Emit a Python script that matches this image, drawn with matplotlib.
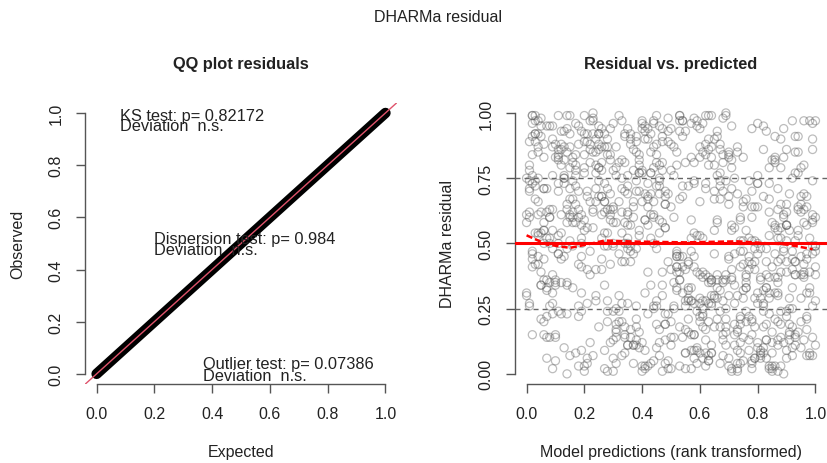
import matplotlib
matplotlib.use("Agg")
import matplotlib.pyplot as plt

plt.rcParams['font.family'] = ['Liberation Sans', 'DejaVu Sans']

# QQ plot: expected vs observed quantiles of the scaled residuals
qq_expected = [0.0, 0.1, 0.2, 0.3, 0.4, 0.5, 0.6, 0.7, 0.8, 0.9, 1.0]
qq_observed = [0.0, 0.1, 0.2, 0.3, 0.4, 0.5, 0.6, 0.7, 0.8, 0.9, 1.0]

test_names = ['KS test', 'Dispersion test', 'Outlier test']
test_pvalues = ['0.82172', '0.984', '0.07386']
test_results = ['n.s.', 'n.s.', 'n.s.']

# rank transformed predictions and residuals, in percent
pred_pct = [
    3, 57, 81, 24, 66, 12, 92, 45, 38, 71, 5, 88, 29, 53, 16, 97, 62, 41, 77, 9,
    34, 85, 19, 60, 48, 2, 73, 26, 94, 55, 13, 68, 39, 82, 7, 50, 23, 99, 64, 31,
    76, 10, 43, 90, 28, 58, 15, 83, 36, 70, 1, 47, 93, 21, 65, 86, 32, 54, 8, 79,
    18, 61, 40, 95, 4, 74, 27, 51, 87, 14, 67, 35, 80, 22, 59, 96, 44, 11, 72, 49,
    91, 6, 56, 30, 78, 17, 63, 42, 100, 25, 84, 37, 69, 0, 52, 20, 89, 46, 75, 33,
    11, 58, 97, 26, 44, 80, 3, 66, 35, 91, 19, 73, 50, 8, 62, 84, 29, 41, 95, 14,
    70, 23, 47, 87, 1, 55, 32, 78, 16, 64, 98, 38, 9, 82, 27, 53, 71, 6, 45, 90,
    36, 76, 13, 59, 93, 21, 68, 4, 49, 85, 30, 61, 18, 96, 42, 74, 2, 57, 33, 81,
    63, 5, 88, 39, 15, 72, 46, 99, 24, 56, 7, 79, 43, 92, 12, 67, 37, 86, 20, 52,
    28, 94, 60, 10, 77, 34, 83, 48, 0, 69, 40, 17, 89, 54, 25, 100, 65, 31, 75, 7,
    46, 18, 81, 67, 3, 92, 52, 29, 74, 12, 58, 87, 36, 63, 21, 95, 9, 44, 79, 38,
    85, 31, 6, 54, 90, 40, 15, 71, 27, 98, 48, 2, 66, 83, 34, 57, 13, 76, 50, 23,
    8, 73, 42, 97, 19, 61, 86, 33, 55, 4, 80, 26, 93, 45, 69, 11, 88, 37, 62, 1,
    52, 99, 28, 14, 64, 37, 78, 5, 43, 91, 22, 70, 49, 16, 84, 59, 30, 96, 9, 67,
    39, 7, 75, 60, 82, 24, 47, 94, 10, 35, 68, 56, 1, 77, 41, 20, 89, 63, 28, 100,
    95, 44, 17, 32, 71, 88, 3, 51, 65, 26, 13, 85, 39, 58, 93, 6, 74, 22, 47, 80,
    25, 62, 83, 9, 48, 15, 69, 36, 98, 56, 79, 30, 4, 72, 18, 53, 41, 87, 11, 65,
    78, 2, 54, 91, 34, 66, 22, 87, 45, 17, 61, 94, 27, 8, 50, 81, 35, 68, 99, 14,
    12, 89, 38, 73, 57, 5, 96, 20, 76, 42, 31, 64, 86, 53, 0, 70, 23, 46, 84, 59,
    67, 33, 100, 19, 86, 43, 11, 58, 29, 81, 6, 49, 72, 35, 97, 14, 62, 90, 40, 26,
    4, 55, 79, 46, 21, 93, 37, 64, 8, 74, 52, 18, 99, 27, 69, 42, 85, 10, 57, 32,
    88, 15, 41, 63, 97, 30, 75, 2, 50, 24, 90, 66, 13, 84, 36, 60, 5, 78, 19, 47,
    31, 71, 7, 85, 53, 14, 61, 92, 39, 68, 26, 0, 82, 45, 17, 95, 54, 28, 73, 91,
    59, 24, 90, 38, 11, 77, 48, 20, 83, 3, 65, 43, 28, 100, 58, 34, 80, 15, 96, 6,
    17, 82, 52, 2, 68, 96, 25, 44, 71, 33, 87, 9, 56, 39, 76, 22, 63, 49, 1, 74,
    93, 40, 65, 77, 28, 8, 54, 86, 14, 60, 36, 98, 21, 70, 4, 89, 47, 32, 67, 51,
    45, 97, 20, 56, 83, 61, 1, 30, 92, 48, 75, 12, 41, 66, 88, 27, 10, 79, 35, 58,
    72, 9, 34, 99, 42, 19, 80, 67, 5, 86, 23, 53, 94, 31, 60, 74, 16, 43, 91, 2,
    23, 64, 87, 13, 50, 73, 35, 15, 57, 100, 44, 78, 7, 29, 83, 48, 96, 61, 18, 38,
    60, 29, 3, 70, 95, 51, 90, 40, 25, 78, 0, 34, 63, 11, 46, 84, 55, 5, 30, 76,
    14, 49, 86, 31, 68, 2, 57, 93, 22, 75, 40, 9, 61, 84, 27, 52, 97, 36, 18, 71,
    54, 80, 7, 43, 96, 25, 64, 11, 89, 33, 76, 50, 1, 66, 38, 92, 19, 58, 83, 45,
    29, 63, 98, 17, 51, 82, 35, 70, 4, 47, 88, 24, 73, 13, 56, 6, 79, 42, 94, 60,
    87, 21, 44, 67, 10, 39, 91, 53, 78, 15, 62, 99, 32, 48, 85, 26, 69, 3, 57, 34,
    41, 74, 16, 90, 59, 28, 6, 81, 46, 65, 20, 37, 95, 72, 11, 64, 44, 88, 23, 100,
    8, 36, 62, 52, 23, 97, 70, 18, 34, 91, 55, 80, 14, 40, 77, 31, 5, 67, 49, 84,
    66, 93, 27, 1, 84, 45, 12, 60, 99, 38, 71, 4, 53, 87, 24, 96, 58, 15, 82, 30,
    19, 55, 79, 35, 71, 63, 42, 89, 7, 26, 48, 68, 83, 21, 50, 10, 37, 75, 92, 3,
    99, 12, 51, 76, 38, 14, 85, 30, 61, 82, 1, 92, 43, 59, 17, 74, 26, 54, 9, 69,
    47, 72, 33, 8, 94, 56, 22, 77, 40, 3, 66, 27, 89, 6, 63, 44, 86, 20, 35, 78,
    24, 87, 60, 47, 15, 79, 53, 2, 68, 95, 32, 58, 11, 76, 99, 39, 62, 29, 84, 6,
    73, 4, 39, 65, 88, 33, 96, 46, 14, 57, 81, 19, 64, 35, 2, 87, 51, 71, 25, 42,
    35, 61, 92, 20, 55, 7, 28, 74, 86, 49, 13, 97, 38, 80, 68, 22, 9, 47, 63, 90,
    82, 27, 13, 58, 3, 69, 44, 97, 31, 75, 52, 84, 25, 1, 46, 78, 93, 34, 16, 59,
    6, 46, 71, 98, 37, 88, 16, 64, 52, 24, 70, 41, 90, 57, 33, 12, 80, 65, 99, 28,
    57, 90, 25, 42, 80, 11, 67, 35, 78, 8, 93, 62, 20, 45, 85, 54, 30, 2, 73, 16,
    90, 33, 4, 83, 62, 50, 19, 87, 26, 69, 41, 7, 75, 98, 29, 61, 17, 92, 44, 53,
    37, 78, 56, 12, 27, 93, 75, 9, 45, 100, 18, 64, 36, 72, 53, 88, 41, 6, 60, 21,
    16, 52, 82, 69, 48, 4, 38, 58, 94, 21, 77, 30, 99, 10, 66, 43, 73, 86, 2, 81,
    64, 9, 46, 23, 74, 39, 100, 28, 11, 62, 34, 90, 48, 25, 87, 5, 55, 31, 95, 70,
]
resid_pct = [
    72, 15, 48, 90, 33, 61, 7, 84, 26, 55, 98, 39, 12, 67, 81, 44, 3, 59, 22, 76,
    50, 8, 93, 29, 65, 41, 17, 78, 53, 2, 87, 36, 70, 24, 95, 11, 62, 46, 83, 19,
    35, 88, 4, 57, 20, 74, 99, 13, 43, 68, 27, 91, 51, 6, 80, 31, 66, 97, 14, 40,
    63, 28, 77, 10, 85, 47, 34, 60, 1, 94, 18, 52, 73, 38, 9, 69, 25, 82, 56, 89,
    16, 71, 42, 96, 5, 58, 86, 23, 49, 79, 37, 64, 100, 30, 45, 92, 0, 75, 32, 54,
    83, 45, 21, 68, 97, 12, 54, 38, 76, 29, 61, 4, 88, 50, 17, 73, 42, 9, 65, 34,
    6, 92, 58, 37, 74, 26, 81, 15, 49, 99, 31, 70, 23, 86, 62, 3, 95, 44, 19, 57,
    47, 20, 75, 53, 11, 89, 35, 66, 2, 41, 78, 25, 60, 13, 94, 51, 84, 28, 71, 8,
    90, 39, 14, 82, 61, 46, 7, 96, 30, 72, 52, 18, 85, 40, 23, 67, 11, 57, 99, 33,
    24, 64, 87, 5, 43, 70, 93, 19, 58, 36, 1, 80, 47, 91, 74, 28, 55, 16, 83, 62,
    59, 3, 36, 74, 89, 18, 45, 63, 8, 93, 27, 55, 14, 80, 40, 68, 31, 96, 6, 48,
    12, 79, 55, 41, 24, 97, 60, 2, 87, 33, 70, 44, 91, 19, 58, 9, 76, 37, 64, 85,
    95, 30, 68, 17, 52, 6, 82, 43, 28, 75, 10, 61, 38, 99, 21, 50, 90, 4, 73, 26,
    41, 86, 1, 63, 35, 78, 20, 54, 92, 15, 47, 83, 5, 67, 29, 95, 13, 58, 38, 72,
    77, 22, 51, 94, 8, 66, 39, 85, 14, 57, 98, 32, 71, 45, 3, 84, 60, 27, 49, 11,
    29, 60, 84, 46, 71, 3, 92, 25, 67, 40, 82, 16, 53, 9, 77, 36, 22, 88, 1, 64,
    68, 13, 33, 87, 56, 79, 11, 49, 97, 21, 64, 6, 42, 75, 95, 18, 59, 31, 84, 46,
    4, 96, 72, 25, 43, 59, 86, 30, 10, 78, 37, 91, 66, 52, 20, 7, 48, 81, 26, 99,
    88, 48, 18, 69, 2, 34, 63, 77, 55, 90, 14, 27, 83, 36, 61, 44, 100, 12, 53, 39,
    32, 75, 97, 9, 81, 52, 24, 41, 69, 6, 58, 93, 19, 72, 46, 85, 28, 65, 3, 87,
    54, 17, 43, 80, 27, 91, 66, 8, 35, 60, 85, 22, 49, 2, 74, 39, 82, 15, 96, 30,
    19, 67, 90, 35, 57, 1, 47, 73, 94, 28, 43, 76, 10, 62, 88, 53, 34, 70, 24, 81,
    76, 40, 6, 58, 93, 23, 39, 97, 16, 84, 52, 31, 68, 26, 8, 79, 45, 63, 87, 13,
    10, 85, 62, 21, 46, 74, 4, 55, 33, 99, 18, 69, 87, 41, 54, 14, 73, 92, 37, 50,
    65, 26, 80, 99, 15, 38, 92, 61, 79, 7, 71, 48, 28, 84, 33, 97, 5, 43, 60, 21,
    43, 94, 29, 52, 84, 63, 14, 37, 0, 66, 90, 8, 56, 30, 45, 61, 89, 20, 77, 35,
    81, 7, 59, 16, 38, 96, 70, 24, 47, 13, 29, 86, 2, 58, 65, 92, 36, 51, 11, 73,
    27, 55, 92, 74, 64, 31, 50, 88, 21, 46, 98, 39, 77, 17, 83, 4, 62, 34, 69, 15,
    97, 36, 11, 45, 78, 9, 27, 71, 59, 38, 5, 60, 32, 94, 13, 56, 80, 23, 42, 89,
    38, 82, 67, 3, 20, 87, 57, 12, 92, 51, 75, 15, 99, 46, 69, 31, 8, 95, 58, 24,
    58, 23, 91, 4, 70, 46, 33, 85, 12, 64, 96, 27, 52, 79, 9, 41, 68, 17, 88, 37,
    31, 76, 14, 61, 42, 95, 8, 53, 83, 20, 67, 2, 89, 36, 74, 25, 57, 98, 6, 48,
    84, 5, 39, 72, 26, 10, 62, 45, 97, 34, 56, 80, 16, 93, 29, 71, 48, 3, 63, 22,
    13, 68, 50, 86, 35, 77, 19, 99, 42, 7, 88, 59, 24, 65, 1, 94, 38, 74, 28, 81,
    69, 41, 83, 22, 97, 54, 15, 37, 74, 90, 3, 46, 62, 11, 86, 30, 79, 52, 7, 60,
    26, 92, 8, 47, 63, 31, 85, 70, 18, 55, 40, 96, 35, 78, 13, 58, 91, 24, 69, 2,
    93, 15, 66, 78, 3, 88, 44, 27, 61, 11, 82, 53, 99, 20, 71, 39, 6, 87, 32, 49,
    45, 81, 29, 11, 57, 20, 73, 94, 36, 68, 23, 7, 48, 92, 40, 83, 60, 14, 75, 97,
    7, 54, 76, 38, 91, 65, 2, 50, 85, 27, 62, 33, 77, 4, 96, 19, 44, 68, 90, 16,
    78, 34, 97, 60, 16, 43, 81, 9, 66, 92, 29, 73, 12, 55, 37, 87, 21, 1, 50, 64,
    40, 63, 20, 94, 51, 6, 36, 76, 28, 45, 99, 15, 70, 33, 58, 10, 84, 61, 23, 88,
    2, 87, 55, 30, 79, 62, 97, 17, 48, 83, 9, 41, 26, 69, 91, 52, 14, 36, 79, 57,
    61, 18, 44, 89, 8, 33, 71, 59, 3, 98, 75, 22, 85, 46, 13, 66, 95, 30, 7, 39,
    95, 49, 73, 15, 42, 99, 26, 64, 87, 5, 32, 67, 18, 80, 54, 2, 43, 91, 60, 24,
    20, 72, 1, 52, 86, 24, 58, 11, 39, 77, 65, 95, 6, 47, 82, 35, 27, 70, 14, 90,
    52, 9, 86, 67, 31, 73, 4, 94, 21, 60, 14, 38, 79, 28, 3, 97, 64, 47, 85, 33,
    86, 27, 61, 43, 99, 14, 50, 35, 81, 18, 93, 71, 42, 7, 59, 22, 76, 10, 66, 45,
    11, 94, 33, 80, 54, 38, 66, 2, 72, 49, 26, 87, 57, 15, 97, 44, 31, 83, 8, 70,
    74, 46, 18, 25, 68, 92, 13, 81, 55, 4, 40, 63, 90, 34, 21, 77, 1, 56, 99, 29,
    36, 63, 95, 56, 12, 80, 47, 28, 99, 71, 8, 51, 19, 88, 43, 62, 93, 25, 38, 84,
]

# median quantile regression of residuals on predictions
qreg_x = [0.0, 0.07, 0.15, 0.21, 0.27, 0.38, 0.55, 0.73, 0.84, 0.90, 0.99]
qreg_y = [0.531, 0.496, 0.483, 0.496, 0.511, 0.507, 0.504, 0.508, 0.500, 0.496, 0.478]

quantile_lines = [0.25, 0.5, 0.75]


def estilo_r(ax, yticks):
    # eixos no estilo do R base: linhas separadas, so entre o primeiro e o ultimo tick
    ax.set_xlim(-0.04, 1.04)
    ax.set_ylim(-0.04, 1.04)
    for lado in ['top', 'right']:
        ax.spines[lado].set_visible(False)
    for lado in ['left', 'bottom']:
        ax.spines[lado].set_bounds(0, 1)
        ax.spines[lado].set_color('#555555')
        ax.spines[lado].set_linewidth(1.0)
    ax.set_xticks([0.0, 0.2, 0.4, 0.6, 0.8, 1.0])
    ax.set_yticks(yticks)
    ax.tick_params(direction='out', length=6.5, width=1.0, color='#555555',
                   labelsize=11.5, labelcolor='#222222', pad=9)
    for rotulo in ax.get_yticklabels():
        rotulo.set_rotation(90)
        rotulo.set_va('center')
    return None


def definir_rotulos(ax, titulo, eixo_x, eixo_y):
    ax.text(0.5, 1.137, titulo, transform=ax.transAxes, ha='center', va='center',
            fontsize=11.8, fontweight='bold', color='#222222')
    ax.set_xlabel(eixo_x, fontsize=11.5, color='#222222')
    ax.set_ylabel(eixo_y, fontsize=11.5, color='#222222')
    ax.xaxis.set_label_coords(0.5, -0.24)
    ax.xaxis.label.set_va('center')
    ax.yaxis.set_label_coords(-0.215, 0.5)
    ax.yaxis.label.set_va('center')
    return None


fig = plt.figure(figsize=(8.28, 4.64), dpi=100)
fig.text(0.529, 0.963, 'DHARMa residual', ha='center', va='center',
         fontsize=11.5, color='#222222')

# Painel da esquerda: QQ plot
ax1 = fig.add_axes([0.1027, 0.1696, 0.3768, 0.6073])
ax1.plot(qq_expected, qq_observed, color='black', lw=7.5, solid_capstyle='round')
ax1.axline((0, 0), slope=1, color='#DF536B', lw=1.0)
estilo_r(ax1, [0.0, 0.2, 0.4, 0.6, 0.8, 1.0])
definir_rotulos(ax1, 'QQ plot residuals', 'Expected', 'Observed')

posicoes = [(0.08, 0.990, 0.953), (0.20, 0.517, 0.476), (0.367, 0.039, -0.005)]
for nome, p, res, (tx, ty1, ty2) in zip(test_names, test_pvalues, test_results, posicoes):
    ax1.text(tx, ty1, f'{nome}: p= {p}', ha='left', va='center',
             fontsize=11.8, color='#222222')
    ax1.text(tx, ty2, f'Deviation  {res}', ha='left', va='center',
             fontsize=11.8, color='#222222')

# Painel da direita: residuos vs. predicoes
ax2 = fig.add_axes([0.622, 0.1696, 0.3768, 0.6073])
pred = [v / 100 for v in pred_pct]
resid = [v / 100 for v in resid_pct]
ax2.scatter(pred, resid, s=34, facecolors='none',
            edgecolors=(0.35, 0.35, 0.35, 0.4), linewidths=0.9, clip_on=False)
for q in quantile_lines:
    if q == 0.5:
        ax2.axhline(q, color='red', lw=2.2, zorder=4)
    else:
        ax2.axhline(q, color='#666666', lw=1.0, ls=(0, (3.6, 2.9)), zorder=3)
ax2.plot(qreg_x, qreg_y, color='red', lw=1.8, ls=(0, (2.5, 1.2)), zorder=5)
estilo_r(ax2, [0.0, 0.25, 0.5, 0.75, 1.0])
ax2.set_yticklabels(['0.00', '0.25', '0.50', '0.75', '1.00'])
for rotulo in ax2.get_yticklabels():
    rotulo.set_rotation(90)
    rotulo.set_va('center')
definir_rotulos(ax2, 'Residual vs. predicted', 'Model predictions (rank transformed)',
                'DHARMa residual')

fig.savefig('out.png', dpi=100)
